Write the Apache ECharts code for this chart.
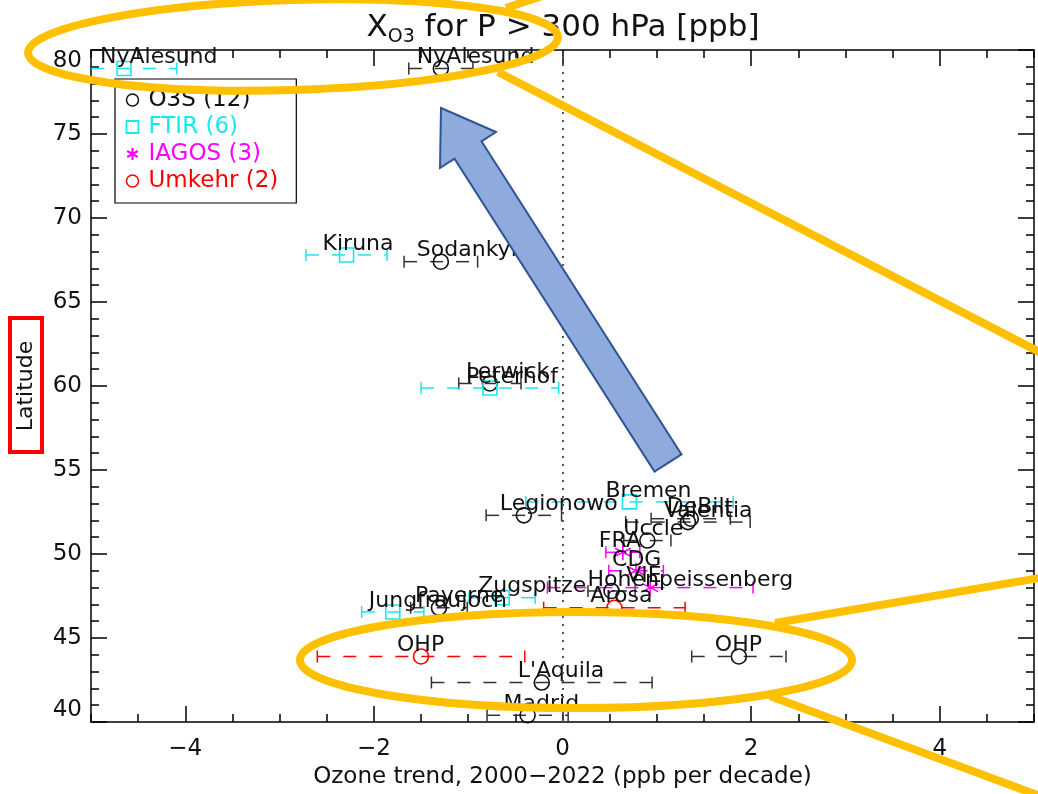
<!DOCTYPE html>
<html><head><meta charset="utf-8">
<script src="https://cdn.jsdelivr.net/npm/echarts@6/dist/echarts.min.js"></script>
<style>html,body{margin:0;padding:0;background:#fff}#c{width:1038px;height:794px}</style>
</head><body><div id="c"></div>
<script>
const FONT = 'DejaVu Sans';
// ---- O3S (ozonesondes)
const o3sNames = ['NyAlesund','Sodankylä','Lerwick','Legionowo','DeBilt','Valentia','Uccle','Hohenpeissenberg','Payerne','OHP',"L'Aquila",'Madrid'];
const o3sTrend = [-1.29,-1.29,-0.77,-0.41,1.36,1.33,0.90,0.52,-1.31,1.87,-0.22,-0.37];
const o3sLat   = [78.9,67.4,60.15,52.3,52.1,51.9,50.8,47.8,46.8,43.9,42.35,40.4];
const o3sErr   = [0.34,0.39,0.33,0.40,0.42,0.66,0.25,0.25,0.30,0.50,1.17,0.43];
// ---- FTIR
const ftirNames = ['NyAlesund','Kiruna','Peterhof','Bremen','Zugspitze','Jungfraujoch'];
const ftirTrend = [-4.65,-2.29,-0.77,0.71,-0.64,-1.80];
const ftirLat   = [78.9,67.8,59.88,53.1,47.4,46.55];
const ftirErr   = [0.56,0.43,0.73,1.10,0.35,0.33];
// ---- IAGOS
const iagosNames = ['FRA','CDG','VIE'];
const iagosTrend = [0.64,0.78,0.93];
const iagosLat   = [50.1,49.0,48.0];
const iagosErr   = [0.18,0.29,1.09];
// ---- Umkehr
const umkNames = ['Arosa','OHP'];
const umkTrend = [0.55,-1.50];
const umkLat   = [46.8,43.9];
const umkErr   = [0.75,1.10];
// ---- axes
const xTickLabels = [-4,-2,0,2,4];
const X_MIN = -5, X_MAX = 5, Y_MIN = 40, Y_MAX = 80;

const C_O3S = '#111111', C_FTIR = '#19E6F0', C_IAGOS = '#FF00FF', C_UMK = '#FF0000';
const ASTER = 'path://M8,0L8,16M1,4L15,12M1,12L15,4';

function pts(names, xs, ys){ return names.map((n,i)=>({name:n, value:[xs[i], ys[i]]})); }
function errs(xs, ys, es){ return xs.map((x,i)=>[x, ys[i], es[i]]); }
function errRender(color){
  return function(params, api){
    const x = api.value(0), y = api.value(1), e = api.value(2);
    const lo = Math.max(x - e, X_MIN), hi = Math.min(x + e, X_MAX);
    const p0 = api.coord([lo, y]), p1 = api.coord([hi, y]);
    const h = 6;
    const st = {stroke: color, lineWidth: 1.5, fill: 'none'};
    const ch = [{type:'line', shape:{x1:p0[0], y1:p0[1], x2:p1[0], y2:p1[1]}, style:Object.assign({lineDash:[13,13]}, st)}];
    if (x - e >= X_MIN) ch.push({type:'line', shape:{x1:p0[0], y1:p0[1]-h, x2:p0[0], y2:p0[1]+h}, style:st});
    if (x + e <= X_MAX) ch.push({type:'line', shape:{x1:p1[0], y1:p1[1]-h, x2:p1[0], y2:p1[1]+h}, style:st});
    return {type:'group', children: ch};
  };
}
const lbl = {show:true, formatter:'{b}', position:'inside', align:'left', verticalAlign:'middle',
  offset:[-24,-11], fontSize:22, fontFamily:FONT, color:'#111', opacity:1, textBorderWidth:0};

const nO3S = `O3S (${o3sNames.length})`, nFTIR = `FTIR (${ftirNames.length})`,
      nIAG = `IAGOS (${iagosNames.length})`, nUMK = `Umkehr (${umkNames.length})`;

const axisFont = {fontSize:23, fontFamily:FONT, color:'#111'};
const axLine = {show:true, onZero:false, lineStyle:{color:'#000', width:1.5}};
const noLine = {show:false, onZero:false};
const tickStyle = {color:'#000', width:1.5};

function errSeries(name, color, xs, ys, es, extra){
  return Object.assign({type:'custom', name:name, renderItem:errRender(color), data:errs(xs, ys, es),
    encode:{x:0, y:1}, z:2, silent:true}, extra || {});
}
function ptSeries(name, color, symbol, size, names, xs, ys){
  return {type:'scatter', name:name, symbol:symbol, symbolSize:size, data:pts(names, xs, ys),
    itemStyle:{color:'none', borderColor:color, borderWidth:1.6, opacity:1}, label:lbl, z:3};
}

const chart = echarts.init(document.getElementById('c'));
chart.setOption({
  animation:false,
  backgroundColor:'#fff',
  title:{text:'X{s|O3} for P > 300 hPa [ppb]', left:563, top:8, textAlign:'center', padding:0,
    textStyle:{fontSize:31, fontFamily:FONT, fontWeight:'normal', color:'#111',
      rich:{s:{fontSize:19, fontFamily:FONT, color:'#111', padding:[20,0,0,0]}}}},
  grid:{left:91, right:4, top:50, bottom:72, containLabel:false},
  legend:{left:115, top:79, orient:'vertical', padding:[9,18,10,9], itemGap:3, itemWidth:12, itemHeight:12,
    backgroundColor:'#fff', borderColor:'#000', borderWidth:1.2, z:10,
    textStyle:{fontSize:23, fontFamily:FONT, lineHeight:24, padding:[0,0,0,5]},
    data:[
      {name:nO3S, icon:'circle', itemStyle:{color:'none', borderColor:C_O3S, borderWidth:1.5}, textStyle:{color:C_O3S}},
      {name:nFTIR, icon:'rect', itemStyle:{color:'none', borderColor:C_FTIR, borderWidth:1.8}, textStyle:{color:C_FTIR}},
      {name:nIAG, icon:ASTER, itemStyle:{color:'none', borderColor:C_IAGOS, borderWidth:2.2}, textStyle:{color:C_IAGOS}},
      {name:nUMK, icon:'circle', itemStyle:{color:'none', borderColor:C_UMK, borderWidth:1.5}, textStyle:{color:C_UMK}}
    ]},
  xAxis:[
    {type:'value', position:'bottom', min:X_MIN, max:X_MAX, interval:0.5, axisLine:axLine,
      axisTick:{show:true, inside:true, length:8, lineStyle:tickStyle},
      axisLabel:Object.assign({margin:16, formatter:v => xTickLabels.includes(v) ? String(v).replace('-','\u2212') : ''}, axisFont),
      splitLine:{show:false},
      name:'Ozone trend, 2000\u22122022 (ppb per decade)', nameLocation:'middle', nameGap:43, nameTextStyle:axisFont},
    {type:'value', position:'bottom', min:X_MIN, max:X_MAX, interval:0.5, axisLine:noLine,
      axisTick:{show:true, inside:true, length:16, customValues:xTickLabels, lineStyle:tickStyle},
      axisLabel:{show:false}, splitLine:{show:false}},
    {type:'value', position:'top', min:X_MIN, max:X_MAX, interval:0.5, axisLine:axLine,
      axisTick:{show:true, inside:true, length:8, lineStyle:tickStyle}, axisLabel:{show:false}, splitLine:{show:false}},
    {type:'value', position:'top', min:X_MIN, max:X_MAX, interval:0.5, axisLine:noLine,
      axisTick:{show:true, inside:true, length:16, customValues:xTickLabels, lineStyle:tickStyle},
      axisLabel:{show:false}, splitLine:{show:false}}
  ],
  yAxis:[
    {type:'value', position:'left', min:Y_MIN, max:Y_MAX, interval:5, axisLine:axLine,
      axisTick:{show:true, inside:true, length:16, lineStyle:tickStyle},
      minorTick:{show:true, splitNumber:5, length:8, lineStyle:tickStyle},
      axisLabel:Object.assign({margin:9, verticalAlignMaxLabel:'top', verticalAlignMinLabel:'bottom'}, axisFont),
      splitLine:{show:false}, minorSplitLine:{show:false},
      name:'Latitude', nameLocation:'middle', nameGap:54, nameRotate:90, nameTextStyle:Object.assign({}, axisFont, {fontSize:22})},
    {type:'value', position:'right', min:Y_MIN, max:Y_MAX, interval:5, axisLine:axLine,
      axisTick:{show:true, inside:true, length:16, lineStyle:tickStyle},
      minorTick:{show:true, splitNumber:5, length:8, lineStyle:tickStyle},
      axisLabel:{show:false}, splitLine:{show:false}}
  ],
  series:[
    errSeries('o3s-err', '#333', o3sTrend, o3sLat, o3sErr, {
      markLine:{silent:true, symbol:['none','none'], label:{show:false},
        lineStyle:{type:[2,6], color:'#555', width:2}, data:[{xAxis:0}]}}),
    errSeries('ftir-err', C_FTIR, ftirTrend, ftirLat, ftirErr),
    errSeries('iagos-err', C_IAGOS, iagosTrend, iagosLat, iagosErr),
    errSeries('umk-err', C_UMK, umkTrend, umkLat, umkErr),
    ptSeries(nO3S, C_O3S, 'circle', 15, o3sNames, o3sTrend, o3sLat),
    ptSeries(nFTIR, C_FTIR, 'rect', 14, ftirNames, ftirTrend, ftirLat),
    ptSeries(nIAG, C_IAGOS, ASTER, 16, iagosNames, iagosTrend, iagosLat),
    ptSeries(nUMK, C_UMK, 'circle', 15, umkNames, umkTrend, umkLat)
  ],
  graphic:[
    {type:'rect', shape:{x:10, y:318, width:32, height:134}, style:{fill:'none', stroke:'#FF0000', lineWidth:4}, z:100},
    {type:'polygon', shape:{points:[[441,108],[496,132],[481.5,141.4],[681.5,454.4],[654.5,471.6],[454.5,158.6],[440,168]]},
      style:{fill:'#8FAADC', stroke:'#2F5597', lineWidth:2}, z:100},
    {type:'ellipse', x:293, y:45, rotation:0.03, shape:{cx:0, cy:0, rx:265, ry:45},
      style:{fill:'none', stroke:'#FFC000', lineWidth:8}, z:101},
    {type:'line', shape:{x1:498, y1:72, x2:1045, y2:355}, style:{stroke:'#FFC000', lineWidth:8}, z:101},
    {type:'line', shape:{x1:506, y1:8, x2:560, y2:-10}, style:{stroke:'#FFC000', lineWidth:8}, z:101},
    {type:'ellipse', x:576, y:660, shape:{cx:0, cy:0, rx:276, ry:48},
      style:{fill:'none', stroke:'#FFC000', lineWidth:8}, z:101},
    {type:'line', shape:{x1:775, y1:623, x2:1045, y2:577}, style:{stroke:'#FFC000', lineWidth:8}, z:101},
    {type:'line', shape:{x1:770, y1:696, x2:1040, y2:796}, style:{stroke:'#FFC000', lineWidth:8}, z:101}
  ]
});
</script></body></html>
